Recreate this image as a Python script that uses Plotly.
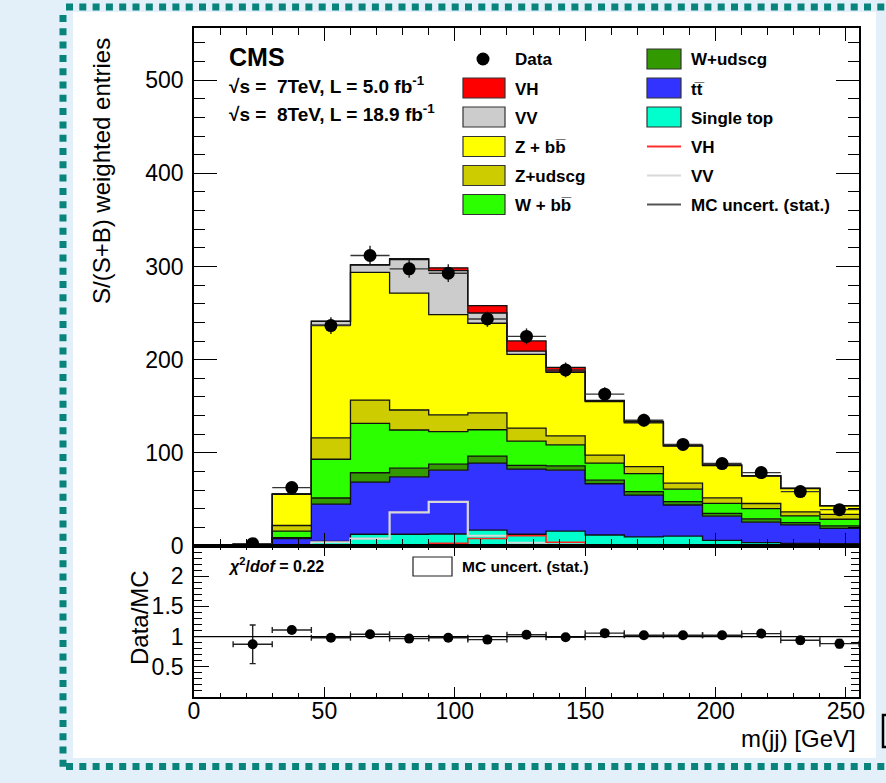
import numpy as np
import plotly.graph_objects as go

# ---------------- data ----------------
bin_edges = [0, 15, 30, 45, 60, 75, 90, 105, 120, 135, 150, 165, 180, 195, 210, 225, 240, 255]

single_top = [0, 0.3, 1.0, 5.0, 12.6, 12.6, 12.9, 17.0, 12.6, 16.0, 11.8, 9.7, 10.7, 6.0, 3.6, 2.9, 2.5]
ttbar      = [0, 0.5, 7.0, 40.0, 56.0, 61.6, 68.5, 72.0, 70.0, 65.4, 55.0, 45.0, 33.3, 26.0, 22.0, 19.7, 16.5]
w_udscg    = [0, 0.2, 1.0, 6.5, 10.0, 9.3, 6.4, 7.5, 4.0, 4.6, 3.9, 3.6, 3.7, 3.0, 3.6, 2.4, 2.5]
w_bb       = [0, 0.3, 7.0, 41.6, 53.0, 41.0, 35.0, 28.3, 26.0, 22.6, 18.3, 19.4, 13.3, 10.7, 11.0, 7.3, 7.2]
z_udscg    = [0, 0.2, 6.0, 23.0, 25.0, 21.5, 18.0, 18.0, 14.0, 9.7, 8.6, 7.5, 6.4, 6.0, 5.4, 4.3, 5.3]
z_bb       = [0, 0.5, 33.5, 121.0, 137.0, 125.5, 107.5, 96.3, 79.0, 68.0, 57.3, 47.0, 39.8, 34.7, 29.4, 25.0, 9.0]
vv         = [0, 0, 0.5, 4.0, 8.0, 36.0, 47.3, 11.0, 3.5, 1.4, 1.0, 1.0, 0.5, 0.5, 0.5, 0.3, 0.3]
vh         = [0, 0, 0, 0.3, 0.5, 1.0, 3.0, 8.0, 11.0, 4.0, 0.5, 0.3, 0.2, 0.2, 0.1, 0.1, 0.1]

data_vals = [None, 2.5, 62.7, 236.6, 311.8, 297.5, 292.8, 243.7, 225.0, 189.0, 163.0, 135.0, 109.0, 88.5, 78.8, 58.4, 39.0]
data_errs = [None, 1.5, 5.0, 9.0, 10.5, 9.5, 9.5, 8.5, 8.5, 8.0, 7.5, 7.0, 6.5, 6.0, 6.0, 5.0, 4.5]

ratio_vals = [None, 0.873, 1.11, 0.98, 1.04, 0.967, 0.98, 0.95, 1.03, 0.99, 1.057, 1.023, 1.023, 1.023, 1.05, 0.94, 0.883]
ratio_errs = [None, 0.32, 0.05, 0.03, 0.03, 0.03, 0.03, 0.03, 0.03, 0.03, 0.04, 0.04, 0.04, 0.05, 0.05, 0.06, 0.07]

main_yticks = [0, 100, 200, 300, 400, 500]
ratio_yticks = [0.5, 1, 1.5, 2]
x_ticks = [0, 50, 100, 150, 200, 250]

# ---------------- geometry ----------------
W, H = 886, 783
ML, MR, MT, MB = 194, 27, 28, 86
PW = W - ML - MR
PH = H - MT - MB


def xp(px):
    return (px - ML) / PW


def yp(py):
    return (H - MB - py) / PH


split = yp(546)
FONT = "Liberation Sans, Arial, Helvetica, sans-serif"

edges = np.array(bin_edges, dtype=float)
centers = (edges[:-1] + edges[1:]) / 2
halfw = (edges[1:] - edges[:-1]) / 2

fig = go.Figure()

# ---------------- stacked histograms ----------------
stack = [
    ("Single top", single_top, "#00ffcc"),
    ("tt", ttbar, "#3333ff"),
    ("W+udscg", w_udscg, "#339900"),
    ("W+bb", w_bb, "#2bff00"),
    ("Z+udscg", z_udscg, "#cccc00"),
    ("Z+bb", z_bb, "#ffff00"),
    ("VV", vv, "#cccccc"),
    ("VH", vh, "#ff0000"),
]
cum = np.zeros(len(centers))
for i, (name, vals, col) in enumerate(stack):
    cum = cum + np.array(vals, dtype=float)
    fig.add_trace(go.Scatter(
        x=edges, y=list(cum) + [cum[-1]], mode="lines",
        line=dict(shape="hv", color="#111111", width=1.3),
        fill="tozeroy" if i == 0 else "tonexty", fillcolor=col,
        showlegend=False, hoverinfo="skip", xaxis="x", yaxis="y"))

# unstacked signal/VV lines
fig.add_trace(go.Scatter(x=edges, y=list(vv) + [vv[-1]], mode="lines",
                         line=dict(shape="hv", color="#d8d8d8", width=2.2),
                         showlegend=False, hoverinfo="skip", xaxis="x", yaxis="y"))
fig.add_trace(go.Scatter(x=edges, y=list(vh) + [vh[-1]], mode="lines",
                         line=dict(shape="hv", color="#ff2020", width=1.6),
                         showlegend=False, hoverinfo="skip", xaxis="x", yaxis="y"))

# data
fig.add_trace(go.Scatter(
    x=centers, y=data_vals, mode="markers",
    marker=dict(color="black", size=13),
    error_y=dict(type="data", array=data_errs, color="#222222", thickness=1.4, width=0),
    error_x=dict(type="data", array=halfw, color="#333333", thickness=1.4, width=0),
    showlegend=False, hoverinfo="skip", xaxis="x", yaxis="y"))

# ratio
fig.add_trace(go.Scatter(
    x=centers, y=ratio_vals, mode="markers",
    marker=dict(color="black", size=10),
    error_y=dict(type="data", array=ratio_errs, color="#222222", thickness=1.4, width=3),
    error_x=dict(type="data", array=halfw, color="#222222", thickness=1.4, width=3),
    showlegend=False, hoverinfo="skip", xaxis="x2", yaxis="y2"))

tickfont = dict(family=FONT, size=23, color="black")
common_axis = dict(showline=True, linecolor="black", linewidth=1.6, mirror="allticks",
                   ticks="inside", tickcolor="black", tickwidth=1.2, showgrid=False,
                   zeroline=False, tickfont=tickfont)

fig.update_layout(
    width=W, height=H,
    margin=dict(l=ML, r=MR, t=MT, b=MB, pad=0),
    paper_bgcolor="#e3f0f9", plot_bgcolor="white",
    showlegend=False,
    xaxis=dict(common_axis, domain=[0, 1], anchor="y", range=[0, 255],
               tickvals=x_ticks, showticklabels=False, ticklen=13,
               minor=dict(ticks="inside", dtick=10, tick0=0, ticklen=7, tickcolor="black", tickwidth=1)),
    yaxis=dict(common_axis, domain=[split, 1], anchor="x", range=[0, 556],
               tickvals=main_yticks, ticklen=23, ticklabelstandoff=4,
               minor=dict(ticks="inside", dtick=20, tick0=0, ticklen=11, tickcolor="black", tickwidth=1)),
    xaxis2=dict(common_axis, domain=[0, 1], anchor="y2", range=[0, 255], matches="x",
                tickvals=x_ticks, ticklen=10, ticklabelstandoff=-7,
                minor=dict(ticks="inside", dtick=10, tick0=0, ticklen=4, tickcolor="black", tickwidth=1)),
    yaxis2=dict(common_axis, domain=[0, split], anchor="x2", range=[0, 2.5],
                tickvals=ratio_yticks, ticktext=[str(v) for v in ratio_yticks],
                ticklen=15, ticklabelstandoff=4,
                minor=dict(ticks="inside", dtick=0.1, tick0=0, ticklen=8, tickcolor="black", tickwidth=1)),
)

shapes = []
annotations = []


def rect_px(x0, y0, x1, y1, fill, line_color=None, lw=0, layer="above"):
    return dict(type="rect", xref="paper", yref="paper", layer=layer,
                x0=xp(x0), x1=xp(x1), y0=yp(y1), y1=yp(y0),
                fillcolor=fill, line=dict(color=line_color or fill, width=lw))


def line_px(x0, y0, x1, y1, color, width, dash="solid"):
    return dict(type="line", xref="paper", yref="paper", layer="above",
                x0=xp(x0), x1=xp(x1), y0=yp(y0), y1=yp(y1),
                line=dict(color=color, width=width, dash=dash))


def text_px(x, y, txt, size, xanchor="left", angle=0, yanchor="middle"):
    return dict(xref="paper", yref="paper", x=xp(x), y=yp(y), text=txt, showarrow=False,
                xanchor=xanchor, yanchor=yanchor, textangle=angle,
                font=dict(family=FONT, size=size, color="black"))


# white panel and dotted frame
shapes.append(rect_px(73, 12, 876, 758, "white", layer="below"))
teal = "#08847c"
shapes.append(line_px(66, 7, 886, 7, teal, 7, dash="7px,6.3px"))
shapes.append(line_px(63, 15, 63, 770, teal, 7, dash="7px,6.3px"))
shapes.append(line_px(66, 766.5, 886, 766.5, teal, 7, dash="7px,6.3px"))
shapes.append(dict(type="path", xref="paper", yref="paper", layer="above",
                   path="M %f,%f L %f,%f L %f,%f L %f,%f" % (xp(887), yp(715), xp(883), yp(715),
                                                          xp(883), yp(747), xp(887), yp(747)),
                   line=dict(color="black", width=2.5)))

# ratio reference line at 1
shapes.append(dict(type="line", xref="x2 domain", yref="y2", x0=0, x1=1, y0=1, y1=1,
                   line=dict(color="black", width=1.2), layer="above"))

# ---------------- legend (manual, two columns) ----------------
rows = [59, 88, 117, 146.5, 175.5, 204.5]
col1_items = [("marker", "Data", None), ("box", "VH", "#ff0000"), ("box", "VV", "#cccccc"),
              ("box", "Z + bb\u0305", "#ffff00"),
              ("box", "Z+udscg", "#cccc00"), ("box", "W + bb\u0305", "#2bff00")]
col2_items = [("box", "W+udscg", "#339900"), ("box", "tt\u0305", "#3333ff"),
              ("box", "Single top", "#00ffcc"), ("line", "VH", "#ff3030"),
              ("line", "VV", "#d8d8d8"), ("line", "MC uncert. (stat.)", "#555555")]

for (kind, label, col), ry in zip(col1_items, rows):
    if kind == "marker":
        shapes.append(dict(type="circle", xref="paper", yref="paper", layer="above",
                           x0=xp(483 - 6.5), x1=xp(483 + 6.5), y0=yp(ry + 6.5), y1=yp(ry - 6.5),
                           fillcolor="black", line=dict(color="black", width=0)))
    else:
        shapes.append(rect_px(463, ry - 10, 505, ry + 10, col, "#333333", 1.2))
    annotations.append(text_px(513, ry + 1, "<b>%s</b>" % label, 17))

for (kind, label, col), ry in zip(col2_items, rows):
    if kind == "box":
        shapes.append(rect_px(647, ry - 10, 681, ry + 10, col, "#333333", 1.2))
    else:
        shapes.append(line_px(647, ry, 681, ry, col, 2))
    annotations.append(text_px(689, ry + 1, "<b>%s</b>" % label, 17))

# ---------------- texts ----------------
annotations.append(text_px(227, 57, "<b>CMS</b>", 25))
annotations.append(text_px(227, 85, "<b>\u221as =\u00a0\u00a07TeV, L = 5.0 fb<sup>-1</sup></b>", 19))
annotations.append(text_px(227, 113, "<b>\u221as =\u00a0\u00a08TeV, L = 18.9 fb<sup>-1</sup></b>", 19))

annotations.append(text_px(101, 171, "S/(S+B) weighted entries", 24, xanchor="center", angle=-90))
annotations.append(text_px(139, 618, "Data/MC", 24, xanchor="center", angle=-90))
annotations.append(text_px(858, 738, "m(jj) [GeV]", 24, xanchor="right"))

annotations.append(text_px(226, 565, "<b><i>\u03c7</i><sup>2</sup>/<i>dof</i> = 0.22</b>", 16))
shapes.append(rect_px(413, 557, 452, 576, "white", "#222222", 1.2))
annotations.append(text_px(460, 566, "<b>MC uncert. (stat.)</b>", 15.5))

fig.update_layout(shapes=shapes, annotations=annotations)

fig.write_html("out.html", config={"displayModeBar": False},
               post_script="document.body.style.margin='0';")
